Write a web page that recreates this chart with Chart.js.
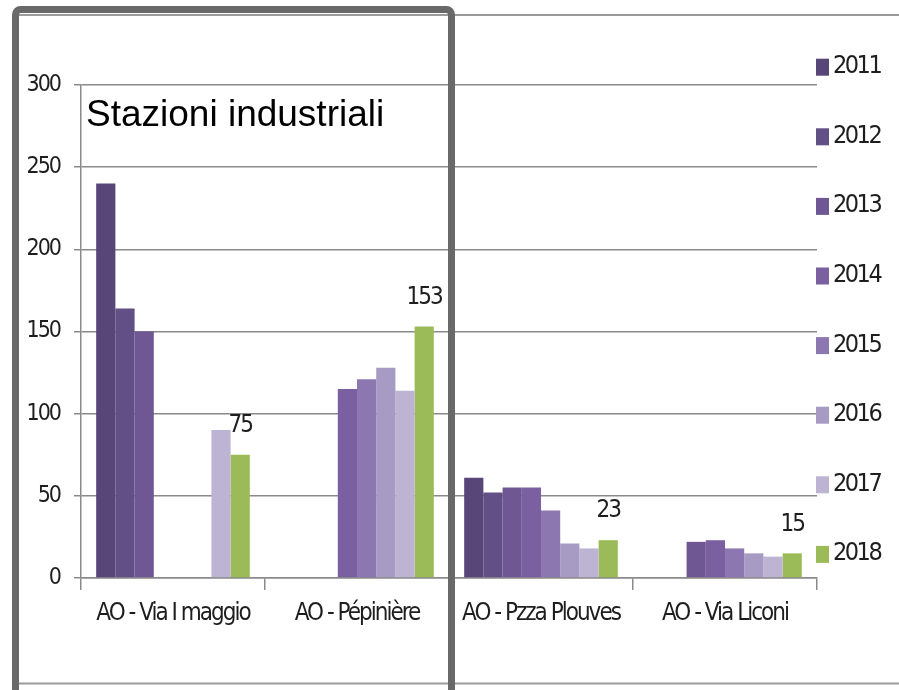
<!DOCTYPE html>
<html>
<head>
<meta charset="utf-8">
<script src="https://cdn.jsdelivr.net/npm/chart.js@4"></script>
<style>
html,body{margin:0;padding:0;background:#fff;}
#wrap{position:relative;width:899px;height:690px;}
canvas{display:block;}
</style>
</head>
<body>
<div id="wrap"><canvas id="c" width="899" height="690"></canvas></div>
<script>
// ---- data ----
const categories = ["AO - Via I maggio", "AO - Pépinière", "AO - Pzza Plouves", "AO - Via Liconi"];
const years = ["2011", "2012", "2013", "2014", "2015", "2016", "2017", "2018"];
const v2011 = [240, null, 61, null];
const v2012 = [164, null, 52, null];
const v2013 = [150, null, 55, 22];
const v2014 = [null, 115, 55, 23];
const v2015 = [null, 121, 41, 18];
const v2016 = [null, 128, 21, 15];
const v2017 = [90, 114, 18, 13];
const v2018 = [75, 153, 23, 15];
const labelledYear = "2018";
const yTickValues = [0, 50, 100, 150, 200, 250, 300];
const chartTitle = "Stazioni industriali";

// ---- styles ----
const seriesValues = [v2011, v2012, v2013, v2014, v2015, v2016, v2017, v2018];
const seriesColors = ["#574677", "#624f86", "#6e5793", "#7b60a1", "#8c77b0", "#a89bc3", "#bdb3d3", "#9bbb59"];
const narrow = "'DejaVu Sans Condensed', 'Liberation Sans Narrow', sans-serif";
const gridColor = "#8a8a8a";
const textColor = "#1e1e1e";
const tightSpacing = "-2px";

const datasets = years.map((y, i) => ({
  label: y,
  data: seriesValues[i],
  backgroundColor: seriesColors[i],
  borderWidth: 0,
  barPercentage: 1.0,
  categoryPercentage: 0.835
}));

const decorPlugin = {
  id: "decor",
  beforeDraw(chart) {
    const ctx = chart.ctx;
    ctx.save();
    ctx.fillStyle = "#ffffff";
    ctx.fillRect(0, 0, chart.width, chart.height);
    ctx.restore();
    if ("letterSpacing" in ctx) ctx.letterSpacing = tightSpacing;
  },
  afterDatasetsDraw(chart) {
    const ctx = chart.ctx;
    const idx = years.indexOf(labelledYear);
    const meta = chart.getDatasetMeta(idx);
    ctx.save();
    ctx.fillStyle = textColor;
    ctx.font = "24px " + narrow;
    ctx.textAlign = "center";
    ctx.textBaseline = "middle";
    meta.data.forEach((el, j) => {
      const v = chart.data.datasets[idx].data[j];
      if (v === null || v === undefined) return;
      ctx.fillText(String(v), el.x, el.y - 29);
    });
    ctx.restore();
  },
  afterDraw(chart) {
    const ctx = chart.ctx;
    ctx.save();
    // outer slide lines
    ctx.strokeStyle = "#9a9a9a";
    ctx.lineWidth = 2;
    ctx.beginPath();
    ctx.moveTo(19, 15); ctx.lineTo(899, 15);
    ctx.moveTo(19, 683.5); ctx.lineTo(899, 683.5);
    ctx.stroke();
    // legend
    ctx.font = "25px " + narrow;
    if ("letterSpacing" in ctx) ctx.letterSpacing = "-2.5px";
    ctx.textBaseline = "middle";
    ctx.textAlign = "left";
    chart.data.datasets.forEach((ds, i) => {
      const cy = 66.7 + i * 69.6;
      ctx.fillStyle = ds.backgroundColor;
      ctx.fillRect(816, cy - 8, 13, 17);
      ctx.fillStyle = textColor;
      ctx.fillText(ds.label, 833, cy);
    });
    // title
    if ("letterSpacing" in ctx) ctx.letterSpacing = "0px";
    ctx.fillStyle = "#000";
    ctx.font = "37px 'Liberation Sans', Arial, sans-serif";
    ctx.textBaseline = "alphabetic";
    ctx.fillText(chartTitle, 86, 126);
    // frame
    ctx.strokeStyle = "#696969";
    ctx.lineWidth = 7;
    ctx.beginPath();
    if (ctx.roundRect) ctx.roundRect(15.5, 9.5, 436, 700, 5); else ctx.rect(15.5, 9.5, 436, 700);
    ctx.stroke();
    ctx.restore();
  }
};

new Chart(document.getElementById("c"), {
  type: "bar",
  data: { labels: categories, datasets: datasets },
  options: {
    responsive: false,
    animation: false,
    devicePixelRatio: 1,
    layout: { padding: { top: 85, right: 82, bottom: 52, left: 0 } },
    plugins: { legend: { display: false }, tooltip: { enabled: false }, title: { display: false } },
    scales: {
      x: {
        offset: true,
        grid: { offset: true, drawOnChartArea: false, drawTicks: true, tickLength: 12, color: gridColor, lineWidth: 1.5 },
        border: { display: true, color: gridColor, width: 1.5 },
        ticks: { font: { family: narrow, size: 24 }, color: textColor, padding: 9, maxRotation: 0, autoSkip: false },
        afterFit: s => { s.height = 60; }
      },
      y: {
        min: yTickValues[0],
        max: yTickValues[yTickValues.length - 1],
        afterBuildTicks: s => { s.ticks = yTickValues.map(v => ({ value: v })); },
        ticks: { font: { family: narrow, size: 23 }, color: textColor, padding: 14 },
        grid: { color: gridColor, lineWidth: 1.5, tickLength: 7, drawTicks: true },
        border: { display: true, color: gridColor, width: 1.5 },
        afterFit: s => { s.width = 81; }
      }
    }
  },
  plugins: [decorPlugin]
});
</script>
</body>
</html>
